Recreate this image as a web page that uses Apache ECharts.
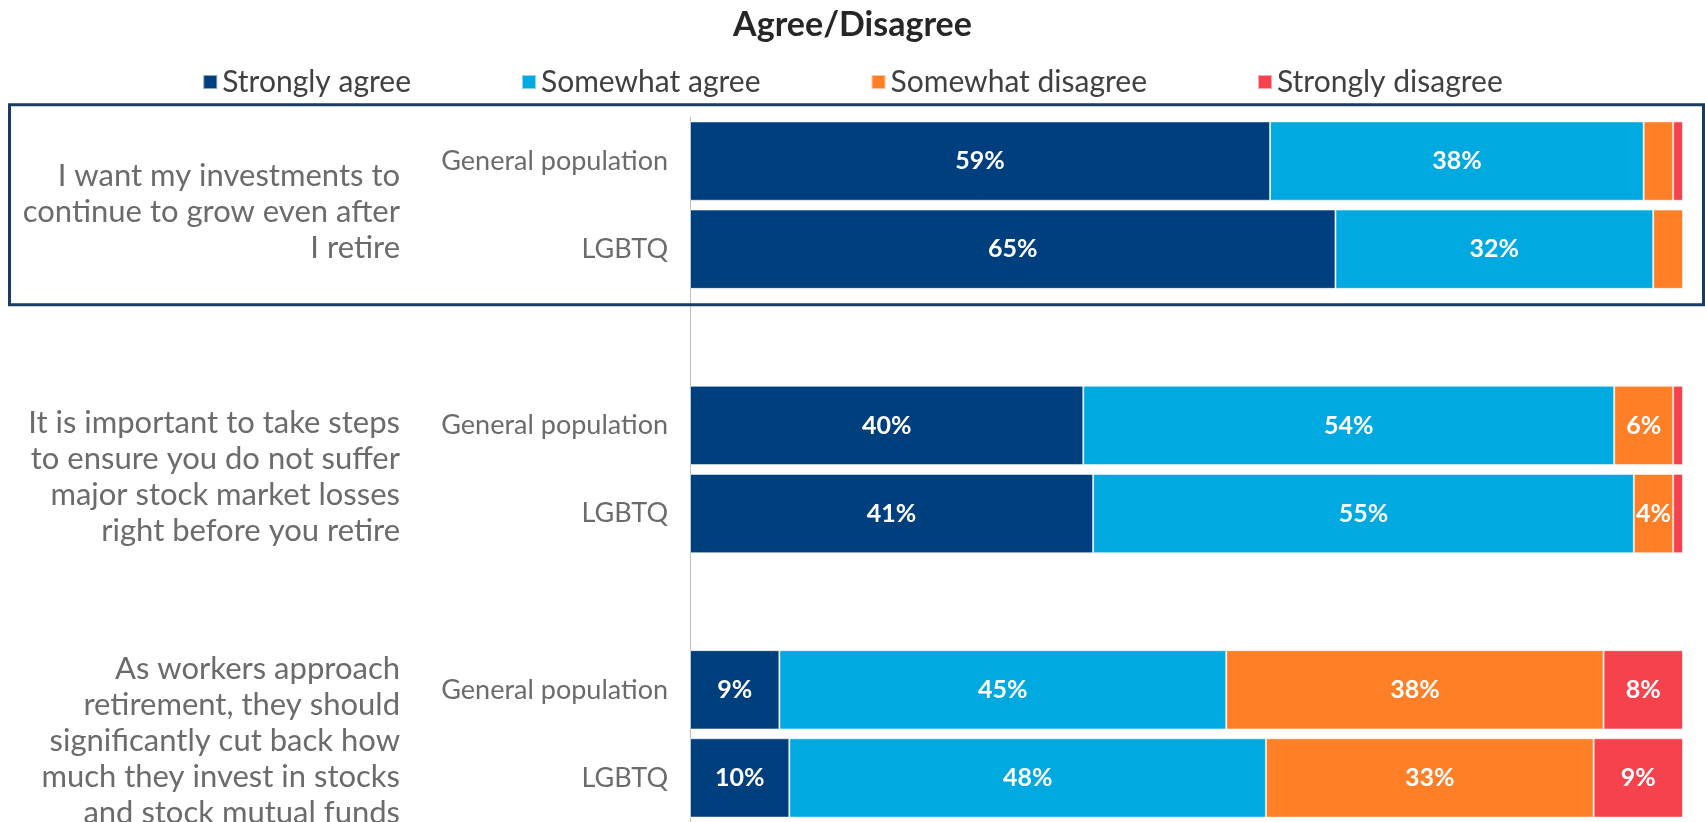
<!DOCTYPE html>
<html>
<head>
<meta charset="utf-8">
<title>Agree/Disagree</title>
<script src="https://cdn.jsdelivr.net/npm/echarts@6/dist/echarts.min.js"></script>
<style>
  html, body { margin: 0; padding: 0; background: #ffffff; }
  #chart { width: 1705px; height: 822px; }
</style>
</head>
<body>
<div id="chart"></div>
<script>
// Row labels (blank rows separate the three statements)
const rowLabels = ['General population', 'LGBTQ', '', 'General population', 'LGBTQ', '', 'General population', 'LGBTQ'];

// Statements, each covering two consecutive rows
const statements = [
  'I want my investments to\ncontinue to grow even after\nI retire',
  'It is important to take steps\nto ensure you do not suffer\nmajor stock market losses\nright before you retire',
  'As workers approach\nretirement, they should\nsignificantly cut back how\nmuch they invest in stocks\nand stock mutual funds'
];
const statementRows = [[0, 1], [3, 4], [6, 7]];

// Response shares (%), null for spacer rows
const stronglyAgree    = [59, 65, null, 40, 41, null, 9, 10];
const somewhatAgree    = [38, 32, null, 54, 55, null, 45, 48];
const somewhatDisagree = [3, 3, null, 6, 4, null, 38, 33];
const stronglyDisagree = [1, 0, null, 1, 1, null, 8, 9];

const seriesNames = ['Strongly agree', 'Somewhat agree', 'Somewhat disagree', 'Strongly disagree'];
const seriesColors = ['#003F7D', '#00A9E0', '#FF7F27', '#F5424C'];
const seriesValues = [stronglyAgree, somewhatAgree, somewhatDisagree, stronglyDisagree];

// Each row is drawn as a 100% stacked bar
const rowTotals = rowLabels.map((_, i) =>
  seriesValues.reduce((s, arr) => s + (arr[i] == null ? 0 : arr[i]), 0));

const FONT = 'Lato';

const chart = echarts.init(document.getElementById('chart'), null, { renderer: 'canvas' });

const series = seriesValues.map((arr, k) => ({
  name: seriesNames[k],
  type: 'bar',
  stack: 'total',
  barCategoryGap: '10%',
  itemStyle: { color: seriesColors[k], borderColor: 'rgba(255,255,255,0.55)', borderWidth: 1 },
  label: {
    show: true,
    position: 'inside',
    color: '#ffffff',
    fontFamily: FONT,
    fontWeight: 'bold',
    fontSize: 25,
    formatter: p => {
      const raw = arr[p.dataIndex];
      return raw != null && raw >= 4 ? raw + '%' : '';
    }
  },
  emphasis: { disabled: true },
  data: arr.map((v, i) => (v == null || v === 0) ? '-' : { value: v / rowTotals[i] * 100 })
}));

const option = {
  animation: false,
  title: {
    text: 'Agree/Disagree',
    left: 'center',
    top: 3,
    textStyle: { fontFamily: FONT, fontWeight: 'bold', fontSize: 34, color: '#262626' }
  },
  legend: {
    data: seriesNames,
    left: 'center',
    top: 62,
    icon: 'rect',
    itemWidth: 14,
    itemHeight: 14,
    itemGap: 110,
    textStyle: { fontFamily: FONT, fontSize: 30, color: '#404040' },
    selectedMode: false
  },
  grid: { left: 690, right: 22, top: 117, height: 709 },
  xAxis: {
    type: 'value',
    min: 0,
    max: 100,
    show: false
  },
  yAxis: {
    type: 'category',
    inverse: true,
    data: rowLabels,
    axisLine: { show: true, lineStyle: { color: '#BFBFBF', width: 1 } },
    axisTick: { show: false },
    axisLabel: {
      margin: 22,
      fontFamily: FONT,
      fontSize: 27,
      color: '#6B6B6B'
    },
    splitLine: { show: false }
  },
  series: series
};

chart.setOption(option);

// Statement texts and the highlight frame, placed from the category scale
const graphics = [];
const pitch = chart.convertToPixel({ yAxisIndex: 0 }, 1) - chart.convertToPixel({ yAxisIndex: 0 }, 0);
statementRows.forEach((rows, g) => {
  const y0 = chart.convertToPixel({ yAxisIndex: 0 }, rows[0]);
  const y1 = chart.convertToPixel({ yAxisIndex: 0 }, rows[1]);
  graphics.push({
    type: 'text',
    x: 400,
    y: (y0 + y1) / 2 + 7,
    style: {
      text: statements[g],
      align: 'right',
      verticalAlign: 'middle',
      fontFamily: FONT,
      fontSize: 31,
      lineHeight: 36,
      fill: '#6B6B6B'
    }
  });
});
const fTop = chart.convertToPixel({ yAxisIndex: 0 }, 0) - pitch * 0.64;
const fBottom = chart.convertToPixel({ yAxisIndex: 0 }, 1) + pitch * 0.63;
graphics.push({
  type: 'rect',
  shape: { x: 9.5, y: fTop, width: 1694, height: fBottom - fTop },
  style: { fill: 'none', stroke: '#1B3A64', lineWidth: 3 },
  z: 10
});
chart.setOption({ graphic: graphics });
</script>
</body>
</html>
